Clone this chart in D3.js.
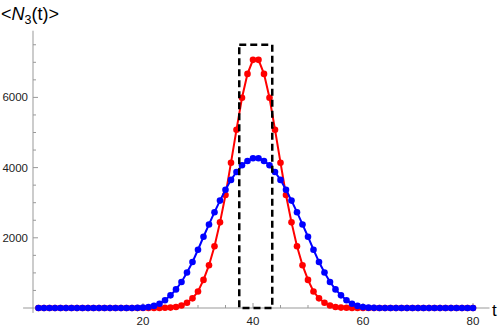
<!DOCTYPE html>
<html><head><meta charset="utf-8">
<script src="https://cdn.jsdelivr.net/npm/d3@7"></script>
<style>
html,body{margin:0;padding:0;background:#fff;}
svg{display:block;font-family:"Liberation Sans",Arial,sans-serif;}
</style></head>
<body>
<svg id="chart" width="500" height="328"></svg>
<script>
// time steps
const tValues = d3.range(1, 81);
// red series <N3(t)> (narrow)
const redValues = [
  0,0,0,0,0,0,0,0,0,0,
  0,0,0,0,0,0,0,0,0,0,
  0,1,2,5,12,30,70,150,275,470,
  800,1220,1760,2440,3220,4140,5080,5990,6670,7070,
  7070,6670,5990,5080,4140,3220,2440,1760,1220,800,
  470,275,150,70,30,12,5,2,1,0,
  0,0,0,0,0,0,0,0,0,0,
  0,0,0,0,0,0,0,0,0,0
];
// blue series (wide)
const blueValues = [
  0,0,0,0,0,0,0,0,0,0,
  0,0,0,0,0,0,0,1,4,10,
  25,60,120,220,360,530,740,1010,1310,1660,
  2030,2380,2730,3060,3370,3650,3875,4065,4190,4265,
  4265,4190,4065,3875,3650,3370,3060,2730,2380,2030,
  1660,1310,1010,740,530,360,220,120,60,25,
  10,4,1,0,0,0,0,0,0,0,
  0,0,0,0,0,0,0,0,0,0
];
const xMajorTicks = [20, 40, 60, 80];
const xMinorTicks = d3.range(5, 81, 5);
const yMajorTicks = [2000, 4000, 6000];
const yMinorTicks = d3.range(500, 7501, 500);
const boxT = [37.5, 43.5];
const boxTop = 7500;

const svg = d3.select("#chart");
const x = d3.scaleLinear().domain([0, 80]).range([33, 473]);
const y = d3.scaleLinear().domain([0, 6000]).range([308, 97.4]);
const axisColor = "#999";

// axes
svg.append("line").attr("x1", x(-1.8)).attr("x2", x(83)).attr("y1", y(0)).attr("y2", y(0))
  .attr("stroke", axisColor).attr("stroke-width", 1);
svg.append("line").attr("x1", x(0)).attr("x2", x(0)).attr("y1", y(-140)).attr("y2", y(7900))
  .attr("stroke", axisColor).attr("stroke-width", 1);

// x ticks
svg.selectAll(".xmin").data(xMinorTicks).enter().append("line")
  .attr("x1", d => x(d)).attr("x2", d => x(d)).attr("y1", y(0)).attr("y2", d => y(0) - (xMajorTicks.includes(d) ? 5 : 3))
  .attr("stroke", axisColor);
svg.selectAll(".xlab").data(xMajorTicks).enter().append("text")
  .attr("x", d => x(d)).attr("y", 325).attr("text-anchor", "middle")
  .attr("font-size", 11.5).attr("fill", "#222").text(d => d);

// y ticks
svg.selectAll(".ymin").data(yMinorTicks).enter().append("line")
  .attr("x1", x(0)).attr("x2", d => x(0) + (yMajorTicks.includes(d) ? 5 : 3)).attr("y1", d => y(d)).attr("y2", d => y(d))
  .attr("stroke", axisColor);
svg.selectAll(".ylab").data(yMajorTicks).enter().append("text")
  .attr("x", 28).attr("y", d => y(d) + 4).attr("text-anchor", "end")
  .attr("font-size", 11.5).attr("fill", "#222").text(d => d);

// series
const line = d3.line().x((d, i) => x(tValues[i])).y(d => y(d));
function drawSeries(vals, color) {
  svg.append("path").datum(vals).attr("d", line).attr("fill", "none")
    .attr("stroke", color).attr("stroke-width", 2);
  svg.append("g").selectAll("circle").data(vals).enter().append("circle")
    .attr("cx", (d, i) => x(tValues[i])).attr("cy", d => y(d)).attr("r", 3.3).attr("fill", color);
}
drawSeries(redValues, "#ff0000");
drawSeries(blueValues, "#0000ff");

// dashed box
svg.append("rect").attr("x", x(boxT[0])).attr("y", y(boxTop))
  .attr("width", x(boxT[1]) - x(boxT[0])).attr("height", y(0) - y(boxTop))
  .attr("fill", "none").attr("stroke", "#000").attr("stroke-width", 2.5)
  .attr("stroke-dasharray", "7,4");

// title
const title = svg.append("text").attr("x", 1).attr("y", 20).attr("font-size", 18).attr("fill", "#000");
title.append("tspan").text("<");
title.append("tspan").attr("font-style", "italic").text("N");
title.append("tspan").attr("font-size", 12.5).attr("dy", 4).text("3");
title.append("tspan").attr("dy", -4).text("(t)>");

// t label
svg.append("text").attr("x", 492).attr("y", 316).attr("font-size", 17).attr("fill", "#000").text("t");
</script>
</body></html>
